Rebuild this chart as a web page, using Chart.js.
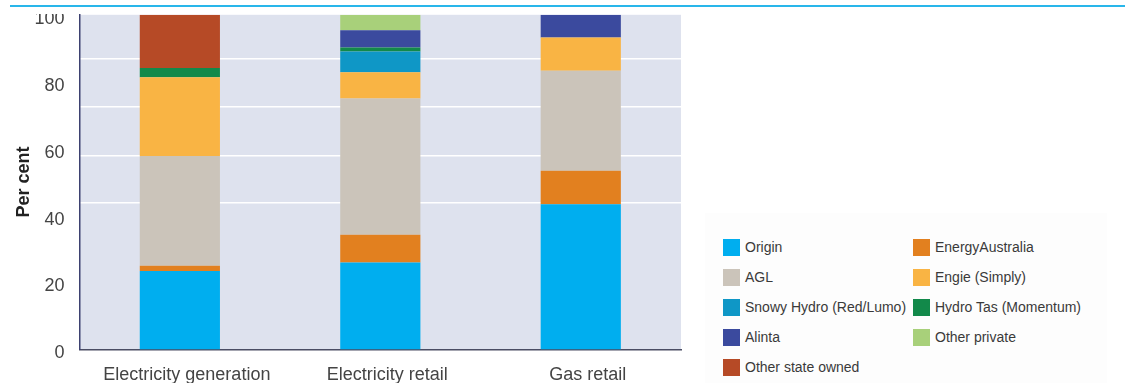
<!DOCTYPE html>
<html lang="en">
<head>
  <meta charset="UTF-8" />
  <title>Market shares</title>
  <script src="https://cdn.jsdelivr.net/npm/chart.js"></script>
  <style>
    body { margin: 0; background: #fff; font-family: 'Liberation Sans', Arial, sans-serif; }
    #page { position: relative; width: 1131px; height: 383px; overflow: hidden; }
    #plot { position: absolute; left: 0; top: 0; width: 700px; height: 383px; overflow: hidden; }
    #plot canvas { position: absolute; left: 0; top: -11px; }
    #cover { position: absolute; left: 0; top: 0; width: 1131px; height: 14px; background: #fff; z-index: 2; }
    #topline { position: absolute; left: 10px; top: 5px; width: 1115px; height: 2px; background: #29b6ea; z-index: 3; }
    #legendPanel { position: absolute; left: 705px; top: 213px; width: 402px; height: 170px; background: #fdfdfd; }
    #legend { position: absolute; left: 723px; top: 232px; display: grid; grid-template-columns: 190px 190px; grid-auto-rows: 30px; }
    .item { display: flex; align-items: center; font-size: 14px; color: #3a3a3a; white-space: nowrap; }
    .box { width: 17px; height: 17px; margin-right: 5px; flex: none; }
  </style>
</head>
<body>
<div id="page">
  <div id="topline"></div>
  <div id="cover"></div>
  <div id="plot"><canvas id="chart" width="700" height="412"></canvas></div>
  <div id="legendPanel"></div>
  <div id="legend"></div>
</div>
<script>
  const categories = ['Electricity generation', 'Electricity retail', 'Gas retail'];

  const origin          = [23.4, 26.0, 43.4];
  const energyAustralia = [1.6, 8.3, 10.0];
  const agl             = [32.8, 40.7, 29.9];
  const engie           = [23.5, 7.8, 9.9];
  const snowyHydro      = [0, 6.2, 0];
  const hydroTas        = [2.8, 1.2, 0];
  const alinta          = [0, 5.2, 6.8];
  const otherPrivate    = [0, 4.6, 0];
  const otherStateOwned = [15.9, 0, 0];

  // white lines in the plot do not sit on the labelled ticks
  const gridValues = [43.7, 57.8, 72.5, 86.8];

  const series = [
    { label: 'Origin', data: origin, color: '#00aeef' },
    { label: 'EnergyAustralia', data: energyAustralia, color: '#e2801f' },
    { label: 'AGL', data: agl, color: '#cbc4ba' },
    { label: 'Engie (Simply)', data: engie, color: '#f9b444' },
    { label: 'Snowy Hydro (Red/Lumo)', data: snowyHydro, color: '#0f97c6' },
    { label: 'Hydro Tas (Momentum)', data: hydroTas, color: '#12894a' },
    { label: 'Alinta', data: alinta, color: '#3b4a9e' },
    { label: 'Other private', data: otherPrivate, color: '#a8d07a' },
    { label: 'Other state owned', data: otherStateOwned, color: '#b64a26' }
  ];

  const plotBg = {
    id: 'plotBg',
    beforeDraw(chart) {
      const { ctx, chartArea: a } = chart;
      ctx.save();
      ctx.fillStyle = '#dee2ee';
      ctx.fillRect(a.left, a.top, a.right - a.left, a.bottom - a.top);
      ctx.restore();
    }
  };

  const font = { family: "'Liberation Sans', Arial, sans-serif", size: 18 };

  const chart = new Chart(document.getElementById('chart'), {
    type: 'bar',
    data: {
      labels: categories,
      datasets: series.map(s => ({
        label: s.label,
        data: s.data,
        backgroundColor: s.color,
        borderWidth: 0,
        barPercentage: 0.4,
        categoryPercentage: 1
      }))
    },
    options: {
      responsive: false,
      animation: false,
      layout: { padding: { left: 13, right: 19, top: 4, bottom: 0 } },
      plugins: { legend: { display: false }, tooltip: { enabled: false } },
      scales: {
        x: {
          stacked: true,
          grid: { display: false, drawTicks: false },
          border: { display: true, color: '#4a4d63', width: 1.5 },
          ticks: { font, color: '#444', padding: 15, labelOffset: 7, maxRotation: 0 }
        },
        y: {
          stacked: true,
          min: 0,
          max: 100,
          grid: { display: false, drawTicks: false },
          border: { display: true, color: '#3d4170', width: 1.5 },
          ticks: { stepSize: 20, font, color: '#444', padding: 15, labelOffset: 4 },
          title: {
            display: true,
            text: 'Per cent',
            color: '#222',
            font: { family: font.family, size: 18, weight: 'bold' },
            padding: { top: 0, bottom: -15 }
          }
        },
        grid: {
          position: 'left',
          min: 0,
          max: 100,
          afterBuildTicks: scale => { scale.ticks = gridValues.map(v => ({ value: v })); },
          grid: { color: '#ffffff', lineWidth: 1.5, drawTicks: false },
          border: { display: false },
          ticks: { display: false }
        }
      }
    },
    plugins: [plotBg]
  });

  // legend in the same order as the stack, two columns
  const legendDiv = document.getElementById('legend');
  series.forEach(s => {
    const item = document.createElement('div');
    item.className = 'item';
    item.innerHTML = `<span class="box" style="background:${s.color}"></span><span>${s.label}</span>`;
    legendDiv.appendChild(item);
  });
</script>
</body>
</html>
